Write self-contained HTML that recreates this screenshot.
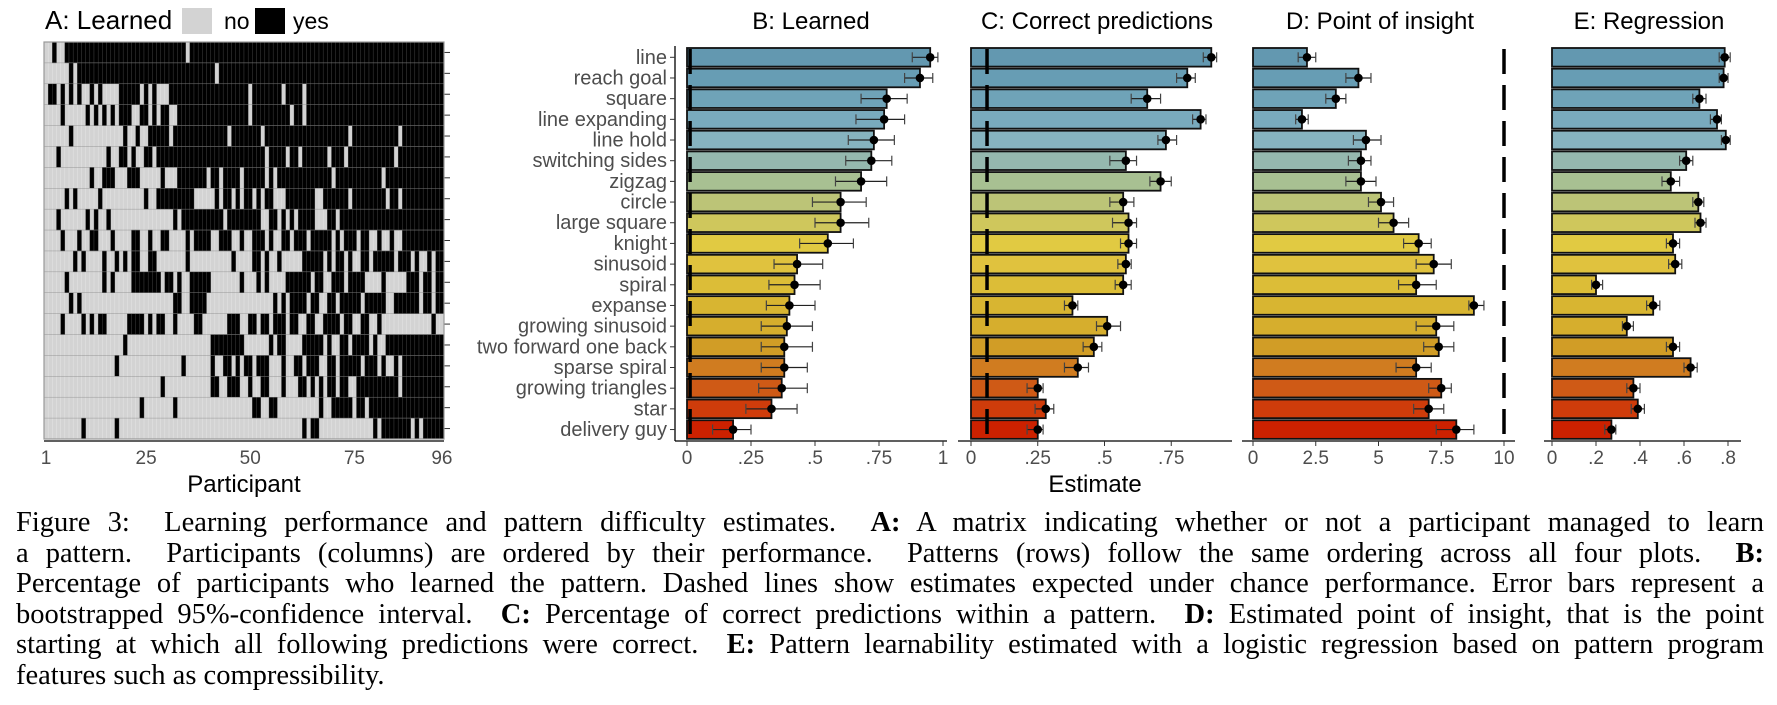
<!DOCTYPE html>
<html><head><meta charset="utf-8"><style>
html,body{margin:0;padding:0;background:#fff;}
#wrap{position:relative;width:1777px;height:705px;overflow:hidden;background:#fff;}
svg{position:absolute;left:0;top:0;}
#caption{position:absolute;left:16px;top:508px;width:1748px;font-family:"Liberation Serif",serif;font-size:28.5px;line-height:30.6px;color:#000;}
#caption .ln{white-space:nowrap;text-align:justify;text-align-last:justify;}
#caption .ln.last{text-align-last:left;}
</style></head><body>
<div id="wrap">
<svg id="chart" width="1777" height="705" xmlns="http://www.w3.org/2000/svg"></svg>
<div id="caption">
<div class="ln">Figure 3: &nbsp;Learning performance and pattern difficulty estimates. &nbsp;<b>A:</b> A matrix indicating whether or not a participant managed to learn</div>
<div class="ln">a pattern. &nbsp;Participants (columns) are ordered by their performance. &nbsp;Patterns (rows) follow the same ordering across all four plots. &nbsp;<b>B:</b></div>
<div class="ln">Percentage of participants who learned the pattern. Dashed lines show estimates expected under chance performance. Error bars represent a</div>
<div class="ln">bootstrapped 95%-confidence interval. &nbsp;<b>C:</b> Percentage of correct predictions within a pattern. &nbsp;<b>D:</b> Estimated point of insight, that is the point</div>
<div class="ln">starting at which all following predictions were correct. &nbsp;<b>E:</b> Pattern learnability estimated with a logistic regression based on pattern program</div>
<div class="ln last">features such as compressibility.</div>
</div>
</div>
<script>
const patterns = ["line","reach goal","square","line expanding","line hold","switching sides","zigzag","circle","large square","knight","sinusoid","spiral","expanse","growing sinusoid","two forward one back","sparse spiral","growing triangles","star","delivery guy"];
const barColors = ["#6398b0","#679db4","#6fa3b8","#79aabd","#86b3bf","#95b8ae","#a8c092","#bcc477","#cfc75c","#e1ca42","#e0c23e","#dcbd37","#d8b531","#d6ae2d","#d19d26","#d07c20","#cf5a16","#cf3c0b","#cc2100"];
// Panel A: black ("yes") runs per pattern, participant columns 0..95
const learnedRows = [
 [[2,2],[5,33],[35,95]],
 [[6,6],[8,40],[42,95]],
 [[1,2],[4,4],[6,6],[8,8],[11,11],[13,13],[18,22],[24,24],[26,26],[30,48],[50,56],[58,61],[63,95]],
 [[4,4],[10,10],[12,12],[14,14],[16,16],[18,20],[23,24],[26,26],[28,29],[32,48],[50,58],[60,61],[63,95]],
 [[6,6],[19,19],[22,22],[25,29],[31,43],[45,51],[53,72],[74,84],[86,95]],
 [[3,3],[15,15],[18,19],[21,21],[24,25],[27,29],[30,52],[54,57],[59,60],[62,67],[69,71],[73,83],[85,95]],
 [[11,11],[14,16],[20,22],[28,28],[32,38],[40,41],[43,46],[48,52],[54,54],[56,68],[70,80],[82,95]],
 [[5,5],[7,7],[13,13],[24,24],[27,35],[41,41],[43,44],[46,46],[48,49],[51,51],[53,54],[58,64],[67,72],[74,81],[83,84],[86,95]],
 [[3,3],[10,10],[12,12],[15,15],[31,31],[33,42],[44,51],[54,55],[57,57],[59,59],[61,64],[68,69],[71,95]],
 [[4,4],[8,8],[11,12],[16,16],[21,22],[25,25],[28,29],[34,34],[36,39],[42,44],[47,47],[50,52],[54,54],[57,58],[60,62],[64,68],[70,70],[72,74],[76,77],[80,80],[83,83],[86,95]],
 [[7,7],[9,9],[14,14],[17,17],[19,19],[21,22],[25,26],[34,34],[45,45],[50,51],[53,53],[56,56],[62,66],[68,68],[70,71],[73,73],[76,77],[79,83],[85,87],[89,89],[92,92],[94,95]],
 [[5,5],[14,14],[16,16],[21,27],[29,30],[32,32],[35,39],[47,47],[51,51],[53,53],[58,63],[65,66],[69,71],[73,76],[81,81],[87,89],[91,92],[94,95]],
 [[6,6],[8,8],[31,32],[35,38],[55,55],[57,57],[59,62],[64,65],[68,69],[71,75],[77,81],[84,89],[91,92],[94,95]],
 [[4,4],[9,9],[11,11],[13,14],[20,23],[25,25],[27,28],[31,31],[36,37],[44,46],[49,50],[52,53],[55,57],[59,60],[63,64],[67,70],[72,73],[76,77],[80,80],[93,93]],
 [[19,19],[40,47],[54,54],[56,57],[62,66],[68,68],[71,72],[74,77],[79,79],[82,95]],
 [[17,17],[33,33],[40,40],[43,44],[46,46],[48,49],[51,53],[57,57],[60,61],[63,65],[68,69],[71,75],[77,79],[81,81],[84,84],[86,95]],
 [[28,28],[40,41],[44,46],[49,49],[52,53],[57,57],[61,62],[64,64],[66,66],[68,69],[71,72],[75,84],[86,95]],
 [[23,23],[31,31],[50,51],[54,55],[66,66],[69,73],[75,76],[78,95]],
 [[9,9],[17,17],[62,62],[64,65],[79,79],[81,87],[89,89],[91,95]]
];
const participantTicks = [1,25,50,75,96];
// Panel B
const learnedVals = [.95,.91,.78,.77,.73,.72,.68,.60,.60,.55,.43,.42,.40,.39,.38,.38,.37,.33,.18];
const learnedLo = [.88,.85,.68,.66,.63,.62,.58,.49,.50,.44,.34,.32,.31,.29,.29,.29,.28,.23,.10];
const learnedHi = [.98,.96,.86,.85,.81,.80,.78,.70,.71,.65,.53,.52,.50,.49,.49,.47,.47,.43,.25];
const learnedTicks = [0,.25,.5,.75,1];
const learnedTickLabels = ["0",".25",".5",".75","1"];
const learnedChance = 0.012;
// Panel C
const correctVals = [.90,.81,.66,.86,.73,.58,.71,.57,.59,.59,.58,.57,.38,.51,.46,.40,.25,.28,.25];
const correctLo = [.87,.77,.60,.83,.70,.52,.67,.52,.53,.56,.55,.54,.35,.47,.42,.35,.21,.24,.21];
const correctHi = [.92,.84,.71,.88,.77,.62,.75,.61,.62,.62,.60,.60,.40,.56,.49,.44,.27,.31,.27];
const correctTicks = [0,.25,.5,.75];
const correctTickLabels = ["0",".25",".5",".75"];
const correctChance = 0.06;
// Panel D
const insightVals = [2.15,4.2,3.3,1.95,4.5,4.3,4.3,5.1,5.6,6.6,7.2,6.5,8.8,7.3,7.4,6.5,7.5,7.0,8.1];
const insightLo = [1.8,3.7,2.9,1.7,4.0,3.8,3.7,4.6,5.0,6.0,6.5,5.8,8.6,6.5,6.8,5.7,7.0,6.4,7.3];
const insightHi = [2.5,4.7,3.7,2.2,5.1,4.7,4.9,5.6,6.2,7.1,7.9,7.3,9.2,8.0,8.0,7.1,7.9,7.6,8.8];
const insightTicks = [0,2.5,5,7.5,10];
const insightTickLabels = ["0","2.5","5","7.5","10"];
const insightChance = 10;
// Panel E
const regrVals = [.785,.78,.67,.75,.79,.61,.54,.665,.675,.55,.56,.20,.46,.34,.55,.63,.37,.39,.27];
const regrLo = [.76,.76,.64,.72,.77,.58,.50,.64,.65,.52,.53,.18,.43,.32,.52,.60,.34,.36,.24];
const regrHi = [.81,.80,.70,.77,.81,.64,.58,.69,.70,.58,.59,.23,.49,.37,.58,.66,.40,.42,.29];
const regrTicks = [0,.2,.4,.6,.8];
const regrTickLabels = ["0",".2",".4",".6",".8"];

const NS = "http://www.w3.org/2000/svg";
const svg = document.getElementById("chart");
function mk(tag, attrs, parent){
  const e = document.createElementNS(NS, tag);
  for (const k in attrs) e.setAttribute(k, attrs[k]);
  (parent||svg).appendChild(e);
  return e;
}
const SANS = '"Liberation Sans", Arial, sans-serif';
const AXIS_Y = 441;
const rowY = i => 57.3 + 20.68*i;
const BAR_H = 18.6;

// ---------- Panel A ----------
const mx0 = 44, mx1 = 444, my0 = 42, my1 = 439;
const cw = (mx1-mx0)/96, rh = (my1-my0)/19;
const colX = c => mx0 + c*cw;
const rowTop = r => my0 + r*rh;
const gA = mk("g", {});


mk("rect", {x:mx0, y:my0, width:mx1-mx0, height:my1-my0, fill:"#d3d3d3"}, gA);
for (let c=1;c<96;c++){
  const ln = mk("line", {x1:colX(c), x2:colX(c), y1:my0, y2:my1, stroke:"#e6e6e6", "stroke-width":0.5}, gA);
  
  
}
learnedRows.forEach((runs, r) => {
  runs.forEach(([a,b]) => {
    for (let c=a;c<=b;c++){
      const cell = mk("rect", {x:colX(c), y:rowTop(r), width:cw, height:rh, fill:"#000", stroke:"#444", "stroke-width":0.4}, gA);
      
      
    }
  });
  const ln = mk("line", {x1:mx0, x2:mx1, y1:rowTop(r), y2:rowTop(r), stroke:"#888", "stroke-width":0.4}, gA);
  
  
  const tk = mk("line", {x1:mx1, x2:mx1+6, y1:rowTop(r)+rh/2, y2:rowTop(r)+rh/2, stroke:"#333", "stroke-width":1}, gA);
  
  
});
mk("rect", {x:mx0, y:my0, width:mx1-mx0, height:my1-my0, fill:"none", stroke:"#999", "stroke-width":1.2}, gA);
const axA = mk("line", {x1:mx0, x2:mx1, y1:AXIS_Y, y2:AXIS_Y, stroke:"#000", "stroke-width":1.3});


participantTicks.forEach(p => {
  const x = colX(p-0.5);
  const t = mk("text", {x:x, y:464, "text-anchor":"middle", "font-family":SANS, "font-size":19, fill:"#4d4d4d"});
  t.textContent = p;
  
  
});
const pl = mk("text", {x:244, y:492, "text-anchor":"middle", "font-family":SANS, "font-size":24, fill:"#000"});
pl.textContent = "Participant";


const tA = mk("text", {x:45, y:29, "font-family":SANS, "font-size":26, fill:"#000"});
tA.textContent = "A: Learned";


const lg1 = mk("rect", {x:182, y:8, width:30, height:26, fill:"#d3d3d3"});


const lt1 = mk("text", {x:224, y:29, "font-family":SANS, "font-size":23, fill:"#000"});
lt1.textContent = "no";


const lg2 = mk("rect", {x:255, y:8, width:30, height:26, fill:"#000"});


const lt2 = mk("text", {x:293, y:29, "font-family":SANS, "font-size":23, fill:"#000"});
lt2.textContent = "yes";



// ---------- Pattern labels (B y axis) ----------
const yAx = mk("line", {x1:675, x2:675, y1:46, y2:AXIS_Y, stroke:"#000", "stroke-width":1.3});


patterns.forEach((p,i) => {
  const t = mk("text", {x:667, y:rowY(i)+6.5, "text-anchor":"end", "font-family":SANS, "font-size":20, fill:"#4d4d4d"});
  t.textContent = p;
  
  
  const tk = mk("line", {x1:670, x2:675, y1:rowY(i), y2:rowY(i), stroke:"#333", "stroke-width":1});
  
  
});

// ---------- Bar panels ----------
function barPanel(opt){
  const g = mk("g", {});
  
  
  const sx = v => opt.x0 + v*opt.scale;
  opt.vals.forEach((v,i) => {
    const cy = rowY(i);
    const b = mk("rect", {x:sx(0), y:cy-BAR_H/2, width:sx(v)-sx(0), height:BAR_H, fill:barColors[i], stroke:"#111", "stroke-width":1.8}, g);
    
    
  });
  if (opt.chance !== undefined){
    const cl = mk("line", {x1:sx(opt.chance), x2:sx(opt.chance), y1:49, y2:AXIS_Y, stroke:"#000", "stroke-width":3.5, "stroke-dasharray":"25 11"}, g);
    
    
  }
  opt.vals.forEach((v,i) => {
    const cy = rowY(i);
    const e = mk("line", {x1:sx(opt.lo[i]), x2:sx(opt.hi[i]), y1:cy, y2:cy, stroke:"#222", "stroke-width":1.2}, g);
    
    
    const c1 = mk("line", {x1:sx(opt.lo[i]), x2:sx(opt.lo[i]), y1:cy-5, y2:cy+5, stroke:"#444", "stroke-width":1.2}, g);
    
    
    const c2 = mk("line", {x1:sx(opt.hi[i]), x2:sx(opt.hi[i]), y1:cy-5, y2:cy+5, stroke:"#444", "stroke-width":1.2}, g);
    
    
    const pt = mk("circle", {cx:sx(v), cy:cy, r:4.3, fill:"#000"}, g);
    
    
  });
  const ax = mk("line", {x1:opt.axL, x2:opt.axR, y1:AXIS_Y, y2:AXIS_Y, stroke:"#000", "stroke-width":1.3}, g);
  
  
  opt.ticks.forEach((t,k) => {
    const tk = mk("line", {x1:sx(t), x2:sx(t), y1:AXIS_Y, y2:AXIS_Y+5, stroke:"#333", "stroke-width":1}, g);
    
    
    const tl = mk("text", {x:sx(t), y:464, "text-anchor":"middle", "font-family":SANS, "font-size":19, fill:"#4d4d4d"}, g);
    tl.textContent = opt.tickLabels[k];
    
    
  });
  const tt = mk("text", {x:opt.titleX, y:29, "text-anchor":"middle", "font-family":SANS, "font-size":24, fill:"#000"}, g);
  tt.textContent = opt.title;
  
  
}
barPanel({name:"panel-b-learned", x0:687, scale:256, vals:learnedVals, lo:learnedLo, hi:learnedHi, ticks:learnedTicks, tickLabels:learnedTickLabels, chance:learnedChance, axL:675, axR:947, title:"B: Learned", titleX:811});
barPanel({name:"panel-c-correct", x0:971, scale:267, vals:correctVals, lo:correctLo, hi:correctHi, ticks:correctTicks, tickLabels:correctTickLabels, chance:correctChance, axL:958, axR:1232, title:"C: Correct predictions", titleX:1097});
barPanel({name:"panel-d-insight", x0:1253, scale:25.1, vals:insightVals, lo:insightLo, hi:insightHi, ticks:insightTicks, tickLabels:insightTickLabels, chance:insightChance, axL:1242, axR:1515, title:"D: Point of insight", titleX:1380});
barPanel({name:"panel-e-regression", x0:1552, scale:220, vals:regrVals, lo:regrLo, hi:regrHi, ticks:regrTicks, tickLabels:regrTickLabels, axL:1544, axR:1741, title:"E: Regression", titleX:1649});
const est = mk("text", {x:1095, y:492, "text-anchor":"middle", "font-family":SANS, "font-size":24, fill:"#000"});
est.textContent = "Estimate";


</script>
</body></html>
